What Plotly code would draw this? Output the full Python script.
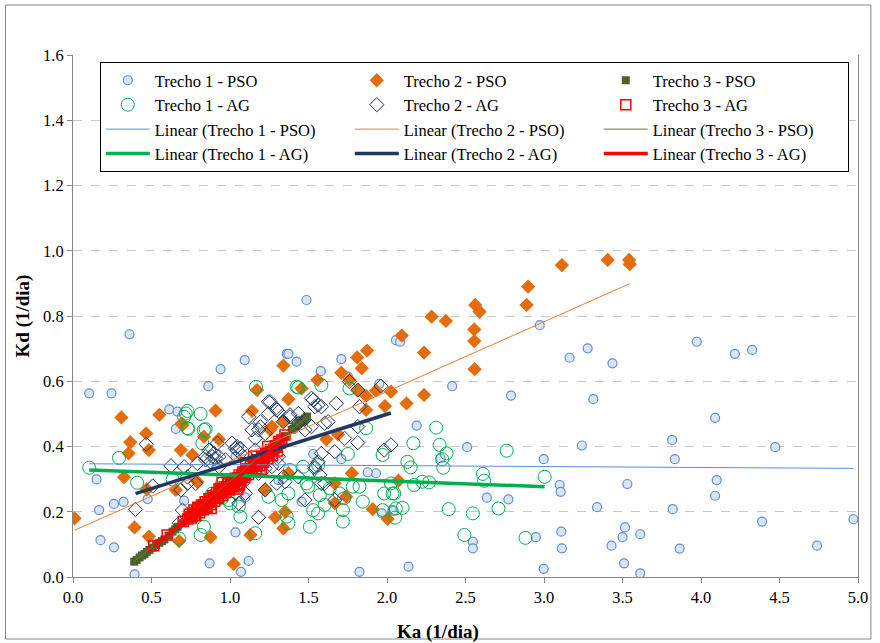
import plotly.graph_objects as go

# ---------------- data ----------------
T1_PSO_X = [0.103, 0.245, 0.36, 0.613, 0.666, 0.655, 0.15, 0.476, 0.322, 0.261, 0.166, 0.175, 0.261, 0.392,
            1.361, 1.094, 0.94, 0.862, 0.708, 1.035, 0.87, 1.119, 1.07, 1.098, 1.035, 1.309,
            1.487, 1.372, 1.424, 1.709, 1.578, 1.709, 1.53, 1.93, 1.877, 1.456, 1.825, 2.035, 1.951, 2.057, 1.751, 1.968,
            2.084, 2.415, 2.79, 2.189, 2.51, 2.341, 2.636, 2.773, 2.547, 2.547, 2.137, 2.042,
            2.973, 3.163, 3.278, 3.436, 3.314, 3.241, 2.998, 3.1, 3.106, 3.531, 3.338, 3.516, 3.5, 3.43, 3.51, 3.11, 3.114,
            2.948, 2.998, 3.973, 4.216, 4.326, 4.09, 3.816, 3.833, 4.473, 4.1, 4.09, 3.82, 4.389, 4.971, 4.739, 3.864,
            3.613, 3.613]
T1_PSO_Y = [0.563, 0.563, 0.744, 0.514, 0.507, 0.454, 0.299, 0.239, 0.23, 0.224, 0.205, 0.113, 0.091, 0.008,
            0.684, 0.665, 0.637, 0.585, 0.234, 0.137, 0.042, 0.049, 0.016, 0.244, 0.369, 0.297,
            0.849, 0.684, 0.66, 0.668, 0.631, 0.361, 0.377, 0.318, 0.321, 0.231, 0.016, 0.205, 0.592, 0.726, 0.614, 0.195,
            0.721, 0.585, 0.556, 0.464, 0.398, 0.364, 0.243, 0.238, 0.108, 0.088, 0.032, 0.203,
            0.772, 0.672, 0.701, 0.655, 0.545, 0.403, 0.361, 0.282, 0.261, 0.285, 0.214, 0.152, 0.122, 0.096, 0.042, 0.139, 0.088,
            0.122, 0.025, 0.721, 0.684, 0.696, 0.488, 0.42, 0.361, 0.398, 0.297, 0.249, 0.208, 0.17, 0.177, 0.096, 0.087,
            0.131, 0.011]

T2_PSO_X = [0.308, 0.55, 0.466, 0.365, 0.483, 0.354, 0.325, 0.47, 0.01, 0.392, 0.483,
            1.34, 1.172, 0.908, 0.697, 0.834, 0.929, 1.14, 0.687, 0.761, 0.655, 0.792, 0.876, 1.13, 0.676, 1.024, 1.288,
            1.34, 1.224, 1.873, 1.81, 1.839, 1.709, 1.557, 1.456, 1.372, 1.34, 1.814, 1.867, 1.867, 1.93, 2.025, 1.987,
            1.688, 1.614, 1.776, 1.667, 1.74, 1.909, 2.004, 1.351,
            2.562, 2.59, 2.284, 2.375, 2.556, 2.556, 2.094, 2.236, 2.558, 2.124, 2.236, 2.073,
            3.114, 3.406, 3.542, 3.546, 2.899, 2.889,
            0.693, 1.266, 1.477, 1.372, 1.667, 1.761, 1.256]
T2_PSO_Y = [0.489, 0.497, 0.44, 0.413, 0.389, 0.379, 0.306, 0.269, 0.18, 0.152, 0.124,
            0.648, 0.573, 0.51, 0.466, 0.43, 0.422, 0.509, 0.389, 0.374, 0.267, 0.292, 0.122, 0.129, 0.11, 0.04, 0.183,
            0.149, 0.267, 0.694, 0.673, 0.64, 0.626, 0.604, 0.578, 0.545, 0.476, 0.573, 0.555, 0.512, 0.571, 0.568, 0.524,
            0.437, 0.422, 0.318, 0.287, 0.246, 0.208, 0.178, 0.2,
            0.834, 0.813, 0.798, 0.785, 0.759, 0.723, 0.74, 0.688, 0.637, 0.532, 0.558, 0.295,
            0.956, 0.972, 0.972, 0.959, 0.89, 0.834,
            0.471, 0.461, 0.481, 0.318, 0.226, 0.604, 0.451]

T3_PSO_X = [0.39, 0.405, 0.424, 0.44, 0.455, 0.47, 0.487, 0.508, 0.529, 0.55, 0.566, 0.582, 0.608, 0.634, 0.65,
            0.666, 0.7, 0.74, 0.78, 0.82, 0.86, 0.9, 0.95, 1.0, 1.05, 1.1, 1.15, 1.2, 1.25, 1.3, 1.35, 1.393,
            1.405, 1.42, 1.435, 1.445, 1.455, 1.466, 1.477, 1.49]
T3_PSO_Y = [0.047, 0.052, 0.06, 0.066, 0.07, 0.077, 0.083, 0.09, 0.098, 0.105, 0.11, 0.115, 0.127, 0.139, 0.146,
            0.154, 0.165, 0.18, 0.197, 0.213, 0.228, 0.245, 0.265, 0.285, 0.305, 0.326, 0.346, 0.367, 0.388, 0.41,
            0.432, 0.451, 0.455, 0.462, 0.471, 0.474, 0.478, 0.482, 0.486, 0.492]

T1_AG_X = [0.293, 0.103, 0.409, 0.634,
           1.165, 0.813, 0.729, 0.708, 0.735, 0.845, 0.824, 0.887, 0.992, 1.056, 1.066, 0.834, 0.813, 1.161, 1.245,
           1.329, 1.361,
           1.435, 1.582, 1.761, 1.867, 1.751, 1.972, 1.382, 1.466, 1.561, 1.372, 1.498, 1.572, 1.635, 1.698, 1.825,
           1.846, 1.719, 1.719, 1.53, 1.509, 1.982, 2.035, 1.972, 1.372,
           2.313, 2.168, 2.335, 2.379, 2.351, 2.358, 2.13, 2.151, 2.762, 2.611, 2.619, 2.173, 2.225, 2.268, 2.025,
           2.046, 2.099, 2.056, 2.393, 2.547, 2.71, 2.493,
           3.004, 2.882,
           0.718, 0.729, 0.834, 1.424, 1.487, 0.676, 1.003, 0.95, 1.561, 1.603, 1.782, 1.066, 0.95, 2.052, 1.726]
T1_AG_Y = [0.365, 0.335, 0.289, 0.299,
           0.583, 0.5, 0.509, 0.491, 0.454, 0.453, 0.41, 0.256, 0.236, 0.216, 0.185, 0.154, 0.129, 0.134, 0.246,
           0.236, 0.185,
           0.581, 0.588, 0.578, 0.456, 0.377, 0.374, 0.328, 0.338, 0.343, 0.256, 0.277, 0.251, 0.272, 0.256, 0.277,
           0.231, 0.205, 0.17, 0.205, 0.154, 0.256, 0.256, 0.205, 0.165,
           0.458, 0.41, 0.405, 0.379, 0.361, 0.335, 0.353, 0.336, 0.387, 0.316, 0.295, 0.282, 0.292, 0.29, 0.287,
           0.256, 0.212, 0.21, 0.208, 0.195, 0.21, 0.129,
           0.307, 0.12,
           0.501, 0.456, 0.451, 0.583, 0.287, 0.118, 0.226, 0.241, 0.195, 0.221, 0.277, 0.297, 0.287, 0.182, 0.241]

T2_AG_X = [0.466, 0.624, 0.508, 0.398,
           1.245, 1.292, 1.245, 1.119, 1.193, 1.224, 1.161, 1.34, 1.013, 1.045, 1.066, 0.898, 0.908, 0.876, 0.792,
           0.708, 0.729, 1.266, 1.309, 1.182, 1.34, 1.035, 1.098, 1.182, 0.676, 1.056,
           1.519, 1.561, 1.677, 1.761, 1.814, 1.825, 1.962, 1.435, 1.382, 1.519, 1.625, 1.73, 1.814, 1.814, 1.667,
           1.982, 2.025, 1.54, 1.561, 1.582, 1.603, 1.667, 1.477,
           0.687, 0.729, 0.845, 0.919, 1.045, 1.182, 1.298, 1.477, 1.54, 1.603, 1.582, 1.298, 1.224, 1.035, 0.929,
           0.782, 0.697,
           1.256, 1.309, 1.193, 1.14, 1.382, 1.435, 1.53, 1.582, 1.035, 1.066, 1.161, 0.866, 0.887, 0.845, 0.971,
           0.929, 1.119, 1.224, 1.309, 1.435, 1.54, 1.572, 1.077, 1.351]
T2_AG_Y = [0.407, 0.341, 0.279, 0.207,
           0.537, 0.517, 0.501, 0.491, 0.461, 0.44, 0.425, 0.476, 0.41, 0.4, 0.394, 0.379, 0.364, 0.353, 0.348,
           0.338, 0.307, 0.338, 0.369, 0.318, 0.307, 0.277, 0.256, 0.183, 0.165, 0.226,
           0.548, 0.527, 0.532, 0.599, 0.573, 0.522, 0.585, 0.501, 0.497, 0.461, 0.476, 0.425, 0.461, 0.412, 0.384,
           0.389, 0.405, 0.333, 0.353, 0.379, 0.287, 0.236, 0.236,
           0.267, 0.287, 0.369, 0.41, 0.389, 0.451, 0.512, 0.451, 0.522, 0.471, 0.287, 0.287, 0.267, 0.256, 0.369,
           0.287, 0.205,
           0.537, 0.507, 0.476, 0.451, 0.491, 0.471, 0.543, 0.522, 0.394, 0.379, 0.389, 0.389, 0.369, 0.359, 0.359,
           0.338, 0.338, 0.333, 0.348, 0.307, 0.338, 0.313, 0.287, 0.292]

T3_AG_X = [0.514, 0.6, 0.702, 0.73, 0.748, 0.762, 0.775, 0.788, 0.8, 0.812, 0.824, 0.836, 0.848, 0.86, 0.872,
           0.884, 0.896, 0.908, 0.92, 0.932, 0.944, 0.956, 0.968, 0.98, 0.992, 1.004, 1.016, 1.028, 1.04, 1.052,
           1.064, 1.076, 1.088, 1.1, 1.112, 1.124, 1.136, 1.148, 1.16, 1.172, 1.184, 1.196, 1.208, 1.22, 1.235,
           1.25, 1.265, 1.28, 1.295, 1.309, 1.33, 1.35, 0.95, 1.05, 1.1, 0.88, 1.2, 1.15,
           0.74, 0.756, 0.77, 0.782, 0.795, 0.806, 0.818, 0.83, 0.842, 0.854, 0.866, 0.878, 0.89, 0.902, 0.914,
           0.926, 0.938, 0.95, 0.962, 0.974, 0.986, 0.998, 1.01, 1.022, 1.034, 1.046, 1.058, 1.07, 1.082, 1.094,
           1.106, 1.118, 1.13, 1.142, 1.154, 1.166, 1.178, 1.19, 1.202, 1.214, 1.228, 1.242, 1.258, 1.272, 1.288,
           1.302, 1.318, 0.99, 1.06, 0.93, 1.17, 1.24]
T3_AG_Y = [0.096, 0.129, 0.17, 0.178, 0.185, 0.196, 0.19, 0.203, 0.209, 0.205, 0.216, 0.222, 0.217, 0.229, 0.236,
           0.23, 0.243, 0.25, 0.244, 0.257, 0.263, 0.258, 0.27, 0.277, 0.271, 0.284, 0.29, 0.285, 0.298, 0.304,
           0.299, 0.311, 0.318, 0.312, 0.325, 0.331, 0.326, 0.339, 0.345, 0.34, 0.352, 0.359, 0.354, 0.366, 0.372,
           0.38, 0.384, 0.392, 0.398, 0.415, 0.42, 0.435, 0.29, 0.27, 0.35, 0.21, 0.33, 0.37,
           0.192, 0.181, 0.205, 0.188, 0.214, 0.197, 0.221, 0.206, 0.231, 0.213, 0.24, 0.222, 0.249, 0.232, 0.258,
           0.241, 0.266, 0.249, 0.276, 0.259, 0.285, 0.267, 0.294, 0.277, 0.303, 0.286, 0.313, 0.295, 0.322, 0.305,
           0.331, 0.314, 0.34, 0.323, 0.35, 0.332, 0.359, 0.342, 0.368, 0.351, 0.378, 0.362, 0.39, 0.372, 0.402,
           0.386, 0.41, 0.3, 0.28, 0.27, 0.37, 0.4]

SERIES_NAMES = ["Trecho 1 - PSO", "Trecho 2 - PSO", "Trecho 3 - PSO",
                "Trecho 1 - AG", "Trecho 2 - AG", "Trecho 3 - AG"]
# linear trendline coefficients (slope, intercept), same order as SERIES_NAMES
TREND_SLOPE = [-0.0029, 0.2138, 0.403, -0.0176, 0.152, 0.393]
TREND_INTERCEPT = [0.3473, 0.141, -0.110, 0.3298, 0.195, -0.108]

X_TICKS = [0.0, 0.5, 1.0, 1.5, 2.0, 2.5, 3.0, 3.5, 4.0, 4.5, 5.0]
Y_TICKS = [0.0, 0.2, 0.4, 0.6, 0.8, 1.0, 1.2, 1.4, 1.6]
X_TITLE = "Ka (1/dia)"
Y_TITLE = "Kd (1/dia)"

# ---------------- figure ----------------
FONT = "'Liberation Serif', 'Times New Roman', 'DejaVu Serif', serif"
xs = [T1_PSO_X, T2_PSO_X, T3_PSO_X, T1_AG_X, T2_AG_X, T3_AG_X]
ys = [T1_PSO_Y, T2_PSO_Y, T3_PSO_Y, T1_AG_Y, T2_AG_Y, T3_AG_Y]
markers = [
    dict(symbol="circle", size=9, color="#dbe4f3", line=dict(color="#5b8fd6", width=1.2)),
    dict(symbol="diamond", size=11, color="#e46c0a", line=dict(width=0)),
    dict(symbol="square", size=8, color="#4f6228", line=dict(width=0)),
    dict(symbol="circle-open", size=13, color="#00b050", line=dict(width=1)),
    dict(symbol="diamond-open", size=11, color="#1f3864", line=dict(width=1)),
    dict(symbol="square-open", size=10, color="#ff0000", line=dict(width=1.5)),
]
trend_styles = [
    dict(color="#5b8fd6", width=1),
    dict(color="#ed7d31", width=1),
    dict(color="#6b7b45", width=1),
    dict(color="#00b050", width=3.5),
    dict(color="#1f3864", width=3.5),
    dict(color="#ff0000", width=3.5),
]
# legend rank: rows of three (PSO markers, AG markers, PSO lines, AG lines)
marker_rank = [1, 2, 3, 4, 5, 6]
trend_rank = [7, 8, 9, 10, 11, 12]

fig = go.Figure()
for i in range(6):
    fig.add_trace(go.Scatter(x=xs[i], y=ys[i], mode="markers", name=SERIES_NAMES[i],
                             marker=markers[i], legendrank=marker_rank[i]))
for i in range(6):
    x0, x1 = min(xs[i]), max(xs[i])
    fig.add_trace(go.Scatter(
        x=[x0, x1],
        y=[TREND_SLOPE[i] * x0 + TREND_INTERCEPT[i], TREND_SLOPE[i] * x1 + TREND_INTERCEPT[i]],
        mode="lines", name="Linear (" + SERIES_NAMES[i] + ")", line=trend_styles[i],
        legendrank=trend_rank[i]))

L, R, T, B = 73, 16, 55, 66
W, H = 880, 643
pw, ph = W - L - R, H - T - B

fig.update_layout(
    width=W, height=H,
    margin=dict(l=L, r=R, t=T, b=B),
    paper_bgcolor="white", plot_bgcolor="white",
    font=dict(family=FONT, size=16, color="black"),
    showlegend=True,
    legend=dict(orientation="h", x=(100 - L) / pw, y=(H - B - 62) / ph, xanchor="left", yanchor="top",
                bgcolor="white", bordercolor="black", borderwidth=1,
                entrywidth=190, entrywidthmode="pixels",
                font=dict(family=FONT, size=16.5), tracegroupgap=0, itemwidth=44),
    xaxis=dict(range=[0, 5], tickvals=X_TICKS, tickformat=".1f", showgrid=False, zeroline=False,
               showline=True, linecolor="#868686", linewidth=1,
               ticks="outside", ticklen=5, tickcolor="#868686", tickfont=dict(size=16.5)),
    yaxis=dict(range=[0, 1.6], tickvals=Y_TICKS, tickformat=".1f", showgrid=True, gridcolor="#c8c8c8",
               griddash="dash", gridwidth=1, zeroline=False,
               showline=True, linecolor="#868686", linewidth=1, mirror=True,
               ticks="outside", ticklen=5, tickcolor="#868686", tickfont=dict(size=16.5),
               title=dict(text="<b>" + Y_TITLE + "</b>", font=dict(family=FONT, size=19), standoff=8)),
)
fig.add_annotation(text="<b>" + X_TITLE + "</b>", xref="paper", yref="paper",
                   x=(441 - L) / pw, y=(H - B - 632) / ph, xanchor="center", yanchor="middle",
                   showarrow=False, font=dict(family=FONT, size=19))
# outer chart-area frame
fig.add_shape(type="rect", xref="paper", yref="paper",
              x0=(5 - L) / pw, x1=(877 - L) / pw, y0=(H - B - 639) / ph, y1=(H - B - 5) / ph,
              line=dict(color="#868686", width=1), fillcolor="rgba(0,0,0,0)", layer="below")

fig.write_html("out.html")
